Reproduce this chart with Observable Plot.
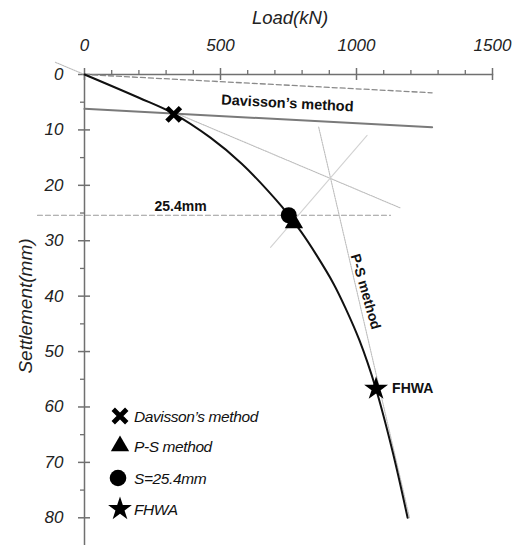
<!DOCTYPE html>
<html><head><meta charset="utf-8">
<script src="https://cdn.jsdelivr.net/npm/d3@7"></script>
<script src="https://cdn.jsdelivr.net/npm/@observablehq/plot@0.6"></script>
<style>
body{margin:0;background:#fff;}
#wrap{position:relative;width:524px;height:545px;font-family:"Liberation Sans",Arial,sans-serif;}
#wrap svg{position:absolute;left:0;top:0;}
</style></head><body><div id="wrap"></div>
<script>
// Load–settlement curve
const curveLoad   = [0, 200, 327, 463, 577, 673, 728, 798, 853, 915, 960, 1011, 1070, 1132, 1188];
const curveSettle = [0, 4.2, 7.05, 11.4, 16.05, 20.9, 24.0, 28.5, 32.6, 37.7, 42.2, 48.0, 56.5, 67.9, 80.0];

// Construction lines (load, settlement)
const elasticLoad = [0, 1278],  elasticSettle = [0, 3.3];
const offsetLoad  = [0, 1278],  offsetSettle  = [6.2, 9.5];
const tangentLoad = [-107, 1162], tangentSettle = [-2.2, 24.1];
const psLoad      = [861, 1195], psSettle     = [9.5, 80];
const bisLoad     = [1039, 684], bisSettle    = [11.0, 31.2];
const s254Load    = [-173, 1125], s254Settle  = [25.4, 25.4];

// Failure-load points
const methodNames  = ["Davisson’s method", "P-S method", "S=25.4mm", "FHWA"];
const methodLoad   = [328, 770, 751, 1072];
const methodSettle = [7.2, 26.8, 25.4, 56.7];

// Axis ticks
const xTicks = [0, 500, 1000, 1500];
const xMinor = [100, 200, 300, 400, 600, 700, 800, 900, 1100, 1200, 1300, 1400];
const yTicks = [0, 10, 20, 30, 40, 50, 60, 70, 80];
const yMinor = [5, 15, 25, 35, 45, 55, 65, 75];

const W = 524, H = 545, MT = 74, ML = 84, MR = 32, MB = 0;
const FW = W - ML - MR, FH = H - MT - MB;
const FONT = '"Liberation Sans", Arial, sans-serif';
const axisColor = "#707070";

const pts = (xs, ys) => xs.map((x, i) => ({x, y: ys[i]}));
const curve = pts(curveLoad, curveSettle);
const pointsData = methodNames.map((n, i) => ({name: n, x: methodLoad[i], y: methodSettle[i]}));
const symbolFor = {"Davisson’s method": "times", "P-S method": "triangle", "S=25.4mm": "circle", "FHWA": "star"};

const chart = Plot.plot({
  width: W, height: H,
  marginTop: MT, marginLeft: ML, marginRight: MR, marginBottom: MB,
  x: {domain: [0, 1500], axis: null},
  y: {domain: [0, 85], reverse: true, axis: null},
  style: {fontFamily: FONT, background: "transparent", overflow: "visible"},
  marks: [
    // axes lines
    Plot.frame({anchor: "top", stroke: axisColor, strokeWidth: 1.5}),
    Plot.frame({anchor: "left", stroke: axisColor, strokeWidth: 1.5}),
    Plot.ruleX(xTicks, {x: d => d, insetTop: -6, insetBottom: FH - 6, stroke: axisColor, strokeWidth: 1.5}),
    Plot.ruleX(xMinor, {x: d => d, insetTop: -4, insetBottom: FH, stroke: axisColor, strokeWidth: 1.3}),
    Plot.ruleY(yTicks, {y: d => d, insetLeft: -6, insetRight: FW - 6, stroke: axisColor, strokeWidth: 1.5}),
    Plot.ruleY(yMinor, {y: d => d, insetLeft: -4, insetRight: FW, stroke: axisColor, strokeWidth: 1.3}),
    Plot.text(xTicks, {x: d => d, frameAnchor: "top", dy: -29, text: d => String(d), fontSize: 17, fontStyle: "italic", fill: "#222", lineAnchor: "middle"}),
    Plot.text(yTicks, {y: d => d, frameAnchor: "left", dx: -21, textAnchor: "end", text: d => String(d), fontSize: 17, fontStyle: "italic", fill: "#222", lineAnchor: "middle"}),

    // construction lines
    Plot.line(pts(s254Load, s254Settle), {x: "x", y: "y", stroke: "#9a9a9a", strokeWidth: 1.1, strokeDasharray: "5,3"}),
    Plot.line(pts(tangentLoad, tangentSettle), {x: "x", y: "y", stroke: "#bdbdbd", strokeWidth: 1.1, strokeDasharray: "1.5,1"}),
    Plot.line(pts(psLoad, psSettle), {x: "x", y: "y", stroke: "#bdbdbd", strokeWidth: 1.1, strokeDasharray: "1.5,1"}),
    Plot.line(pts(bisLoad, bisSettle), {x: "x", y: "y", stroke: "#d2d2d2", strokeWidth: 1.1}),
    Plot.line(pts(elasticLoad, elasticSettle), {x: "x", y: "y", stroke: "#8a8a8a", strokeWidth: 1.3, strokeDasharray: "5,3"}),
    Plot.line(pts(offsetLoad, offsetSettle), {x: "x", y: "y", stroke: "#7a7a7a", strokeWidth: 2}),

    // main curve
    Plot.line(curve, {x: "x", y: "y", stroke: "#111", strokeWidth: 2, curve: "catmull-rom"}),

    // points
    Plot.dot(pointsData.filter(d => d.name === "S=25.4mm"), {x: "x", y: "y", symbol: "circle", r: 8, fill: "#000"}),
    Plot.dot(pointsData.filter(d => d.name === "P-S method"), {x: "x", y: "y", symbol: "triangle", r: 6.8, fill: "#000"}),
    Plot.dot(pointsData.filter(d => d.name === "FHWA"), {x: "x", y: "y", symbol: "star", r: 7.5, fill: "#000"}),
    Plot.dot(pointsData.filter(d => d.name === "Davisson’s method"), {x: "x", y: "y", symbol: "times", r: 6.2, stroke: "#000", strokeWidth: 4.8}),

    // annotations
    Plot.text(["Davisson’s method"], {x: 746, y: 5.2, text: d => d, rotate: 3, fontSize: 14.5, fontWeight: "bold", fill: "#111"}),
    Plot.text(["25.4mm"], {x: 353, y: 23.9, text: d => d, fontSize: 14, fontWeight: "bold", fill: "#111"}),
    Plot.text(["P-S method"], {x: 1033, y: 39.2, text: d => d, rotate: 74, fontSize: 14, fontWeight: "bold", fill: "#111"}),
    Plot.text(pointsData.filter(d => d.name === "FHWA"), {x: "x", y: "y", text: d => "FHWA", dx: 16, textAnchor: "start", fontSize: 14, fontWeight: "bold", fill: "#111"})
  ]
});

const wrap = document.getElementById("wrap");
wrap.appendChild(chart);

// axis titles and legend overlay
const ov = d3.select(wrap).append("svg").attr("width", W).attr("height", H)
  .style("font-family", FONT).style("pointer-events", "none");
ov.append("text").attr("x", 290).attr("y", 17).attr("text-anchor", "middle").attr("dominant-baseline", "central")
  .attr("font-size", 18.5).attr("font-style", "italic").attr("fill", "#222").text("Load(kN)");
ov.append("text").attr("transform", "translate(25,306) rotate(-90)").attr("text-anchor", "middle").attr("dominant-baseline", "central")
  .attr("font-size", 19).attr("font-style", "italic").attr("fill", "#222").text("Settlement(mm)");

const legY = [416, 446, 478, 509];
const legSym = {
  "times": d3.symbol(d3.symbolTimes, Math.PI * 6.2 * 6.2),
  "triangle": d3.symbol(d3.symbolTriangle, Math.PI * 6.8 * 6.8),
  "circle": d3.symbol(d3.symbolCircle, Math.PI * 8.3 * 8.3),
  "star": d3.symbol(d3.symbolStar, Math.PI * 7.5 * 7.5)
};
methodNames.forEach((n, i) => {
  const s = symbolFor[n];
  const p = ov.append("path").attr("d", legSym[s]()).attr("transform", `translate(${s === "circle" ? 118 : 120},${legY[i]})`);
  if (s === "times") p.attr("fill", "none").attr("stroke", "#000").attr("stroke-width", 4.8);
  else p.attr("fill", "#000");
  ov.append("text").attr("x", 134).attr("y", legY[i]).attr("dominant-baseline", "central")
    .attr("font-size", 15.5).attr("font-style", "italic").attr("letter-spacing", "-0.4px").attr("fill", "#111").text(n);
});
</script></body></html>
